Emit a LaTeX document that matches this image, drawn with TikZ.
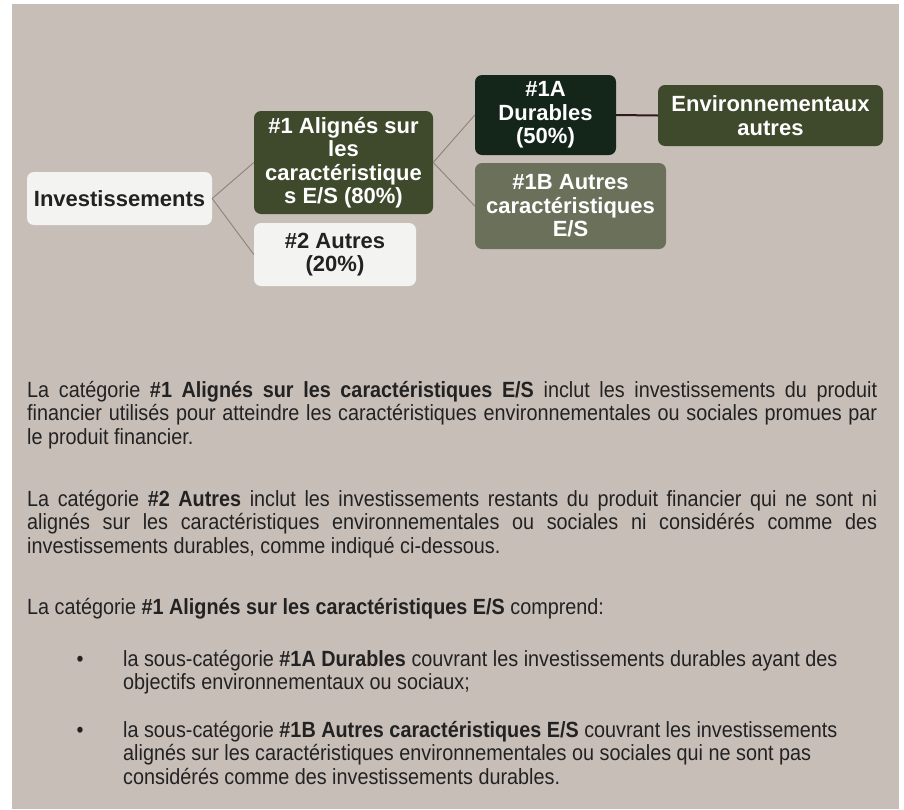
\documentclass[tikz,border=0pt]{standalone}
\usepackage{fontspec}
\setmainfont{Liberation Sans}
\newfontfamily\bodyfam{Liberation Sans}[FakeStretch=0.9]
\definecolor{bgtaupe}{HTML}{C8BEB8}
\definecolor{olive}{HTML}{3E4A2B}
\definecolor{deepgreen}{HTML}{14261A}
\definecolor{sage}{HTML}{6B705B}
\definecolor{paper}{HTML}{F3F3F1}
\definecolor{linkgray}{HTML}{8E8279}
\definecolor{linkdark}{HTML}{2E1A1A}
\definecolor{ink}{HTML}{222222}
\newcommand\boxfont{\fontsize{22}{23.5}\selectfont\bfseries}
\newcommand\bodyfont{\bodyfam\fontsize{22}{23.5}\selectfont}
\newcommand\jline[1]{\hbox to 850pt{#1}}
\begin{document}
\begin{tikzpicture}[x=1pt,y=-1pt,
  box/.style={rounded corners=7pt, inner sep=0pt, align=center, font=\boxfont},
  lightbox/.style={box, fill=paper, text=ink},
  darkbox/.style={box, text=white},
  link/.style={draw=linkgray, line width=0.9pt},
  strong/.style={draw=linkdark, line width=2pt},
  bodyline/.style={anchor=base west, inner sep=0pt, font=\bodyfont, text=ink},
  bulletmark/.style={anchor=base, inner sep=0pt, font=\bodyfont, text=ink}]
\useasboundingbox (0,0) rectangle (904,809);
\fill[bgtaupe] (12,4) rectangle (899,809);
% diagram
\node[lightbox, minimum width=185pt, minimum height=53pt] (inv) at (119.5,198.5) {Investissements};
\node[darkbox, fill=olive, minimum width=179pt, minimum height=103pt] (n1) at (343.5,162.5)
  {\#1 Alignés sur\\les\\caractéristique\\s E/S (80\%)};
\node[lightbox, minimum width=162pt, minimum height=63pt] (n2) at (335,254.5) {\#2 Autres\\(20\%)};
\node[darkbox, fill=deepgreen, minimum width=141pt, minimum height=80pt] (n1a) at (545.5,115) {\#1A\\Durables\\(50\%)};
\node[darkbox, fill=olive, minimum width=225pt, minimum height=61pt] (env) at (770.5,115.5) {Environnementaux\\autres};
\node[darkbox, fill=sage, minimum width=191pt, minimum height=86pt] (n1b) at (570.5,206) {\#1B Autres\\caractéristiques\\E/S};
\draw[link] (inv.east) -- (n1.west);
\draw[link] (inv.east) -- (n2.west);
\draw[link] (n1.east) -- (n1a.west);
\draw[link] (n1.east) -- (n1b.west);
\draw[strong] (n1a.east) -- (env.west);
% text
\node[bodyline] (p1a) at (27,397) {\jline{La catégorie \textbf{\#1 Alignés sur les caractéristiques E/S} inclut les investissements du produit}};
\node[bodyline] (p1b) at (27,420.5) {\jline{financier utilisés pour atteindre les caractéristiques environnementales ou sociales promues par}};
\node[bodyline] (p1c) at (27,444) {le produit financier.};
\node[bodyline] (p2a) at (27,506) {\jline{La catégorie \textbf{\#2 Autres} inclut les investissements restants du produit financier qui ne sont ni}};
\node[bodyline] (p2b) at (27,529.5) {\jline{alignés sur les caractéristiques environnementales ou sociales ni considérés comme des}};
\node[bodyline] (p2c) at (27,553) {investissements durables, comme indiqué ci-dessous.};
\node[bodyline] (p3) at (27,614) {La catégorie \textbf{\#1 Alignés sur les caractéristiques E/S} comprend:};
\node[bulletmark] (b1) at (80,666) {•};
\node[bodyline] (b1a) at (123,666) {la sous-catégorie \textbf{\#1A Durables} couvrant les investissements durables ayant des};
\node[bodyline] (b1b) at (123,689.5) {objectifs environnementaux ou sociaux;};
\node[bulletmark] (b2) at (80,737) {•};
\node[bodyline] (b2a) at (123,737) {la sous-catégorie \textbf{\#1B Autres caractéristiques E/S} couvrant les investissements};
\node[bodyline] (b2b) at (123,760.5) {alignés sur les caractéristiques environnementales ou sociales qui ne sont pas};
\node[bodyline] (b2c) at (123,784) {considérés comme des investissements durables.};
\end{tikzpicture}
\end{document}
